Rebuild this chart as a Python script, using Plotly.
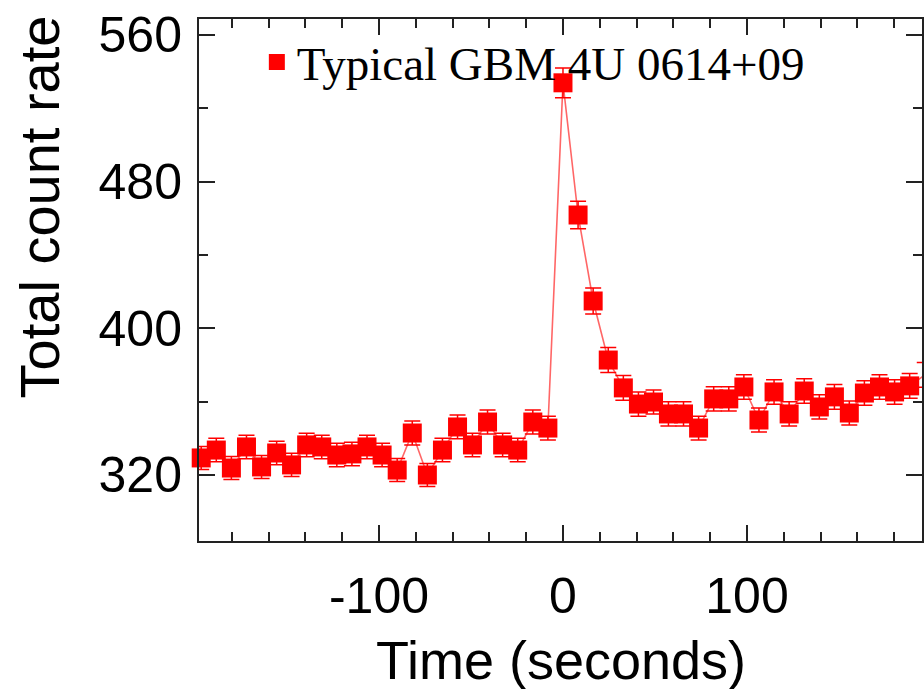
import plotly.graph_objects as go

# Time (s) of each bin centre
time_s = [-196.6, -188.4, -180.2, -172.0, -163.8, -155.6, -147.5, -139.3, -131.1, -122.9,
          -114.7, -106.5, -98.3, -90.1, -81.9, -73.7, -65.5, -57.3, -49.2, -41.0,
          -32.8, -24.6, -16.4, -8.2, 0.0, 8.2, 16.4, 24.6, 32.8, 41.0,
          49.2, 57.3, 65.5, 73.7, 81.9, 90.1, 98.3, 106.5, 114.7, 122.9,
          131.1, 139.3, 147.5, 155.6, 163.8, 172.0, 180.2, 188.4, 196.6]

# Total count rate
rate = [329.3, 333.6, 323.8, 335.3, 324.4, 332.0, 325.5, 336.4, 335.3, 330.9,
        331.5, 335.3, 330.9, 322.7, 342.9, 320.0, 333.6, 346.2, 336.4, 348.9,
        336.4, 333.6, 348.9, 345.6, 533.9, 461.8, 414.9, 382.7, 367.5, 358.7,
        359.8, 353.3, 353.3, 345.6, 361.5, 361.5, 368.0, 350.0, 365.3, 353.3,
        365.8, 357.1, 362.6, 353.8, 364.7, 368.0, 365.3, 368.6, 374.6]

# 1-sigma errors
rate_err = [6.3, 6.4, 6.3, 6.4, 6.3, 6.4, 6.3, 6.4, 6.4, 6.4,
            6.4, 6.4, 6.4, 6.3, 6.5, 6.3, 6.4, 6.5, 6.4, 6.5,
            6.4, 6.4, 6.5, 6.5, 8.1, 7.5, 7.1, 6.8, 6.7, 6.6,
            6.6, 6.6, 6.6, 6.5, 6.6, 6.6, 6.7, 6.5, 6.7, 6.6,
            6.7, 6.6, 6.7, 6.6, 6.7, 6.7, 6.7, 6.7, 6.8]

series_name = "Typical GBM 4U 0614+09"
x_ticks = [-100, 0, 100]
x_ticktext = ["-100", "0", "100"]
y_ticks = [320, 400, 480, 560]

W, H = 924, 689
L, R, T, B = 199, 0, 19, 148

fig = go.Figure()
fig.add_trace(go.Scatter(
    x=time_s, y=rate, mode="lines",
    line=dict(color="rgba(255,0,0,0.6)", width=1.6),
    showlegend=False, cliponaxis=False, hoverinfo="skip"))
fig.add_trace(go.Scatter(
    x=time_s, y=rate, mode="markers", name=series_name,
    marker=dict(symbol="square", size=19, color="#ff0000"),
    error_y=dict(type="data", array=rate_err, visible=True,
                 color="#ff0000", thickness=1.5, width=8),
    cliponaxis=False))

axis_common = dict(
    showgrid=False, zeroline=False, showline=True, linecolor="#222",
    linewidth=2, ticks="inside", tickcolor="#222", tickwidth=2, ticklen=16,
    tickfont=dict(family="Liberation Sans, Arial", size=50, color="black"),
)

fig.update_layout(
    width=W, height=H,
    margin=dict(l=L, r=R, t=T, b=B, pad=0),
    paper_bgcolor="white", plot_bgcolor="white",
    xaxis=dict(range=[-197.8, 195.1], tickvals=x_ticks, ticktext=x_ticktext,
               mirror="allticks", ticklabelstandoff=10,
               minor=dict(dtick=20, tick0=0, ticks="inside", ticklen=9,
                          tickwidth=1.5, tickcolor="#222"),
               **axis_common),
    yaxis=dict(range=[284.0, 568.7], tickvals=y_ticks, mirror="ticks",
               ticklabelstandoff=5,
               minor=dict(dtick=40, tick0=0, ticks="inside", ticklen=9,
                          tickwidth=1.5, tickcolor="#222"),
               **axis_common),
    legend=dict(x=(257 - L) / (W - L - R), y=1 - (25 - T) / (H - T - B),
                xanchor="left", yanchor="top", bgcolor="rgba(0,0,0,0)",
                borderwidth=0, valign="bottom",
                font=dict(family="Liberation Serif, Times New Roman", size=47,
                          color="black")),
    annotations=[
        dict(text="Total count rate", textangle=-90, xref="paper", yref="paper",
             x=(39 - L) / (W - L - R), y=(H - B - 207) / (H - T - B),
             xanchor="center", yanchor="middle", showarrow=False,
             font=dict(family="Liberation Sans, Arial", size=56, color="black")),
        dict(text="Time (seconds)", xref="paper", yref="paper",
             x=(562 - L) / (W - L - R), y=(H - B - 660) / (H - T - B),
             xanchor="center", yanchor="middle", showarrow=False,
             font=dict(family="Liberation Sans, Arial", size=54, color="black")),
    ],
)

fig.write_html("out.html")
